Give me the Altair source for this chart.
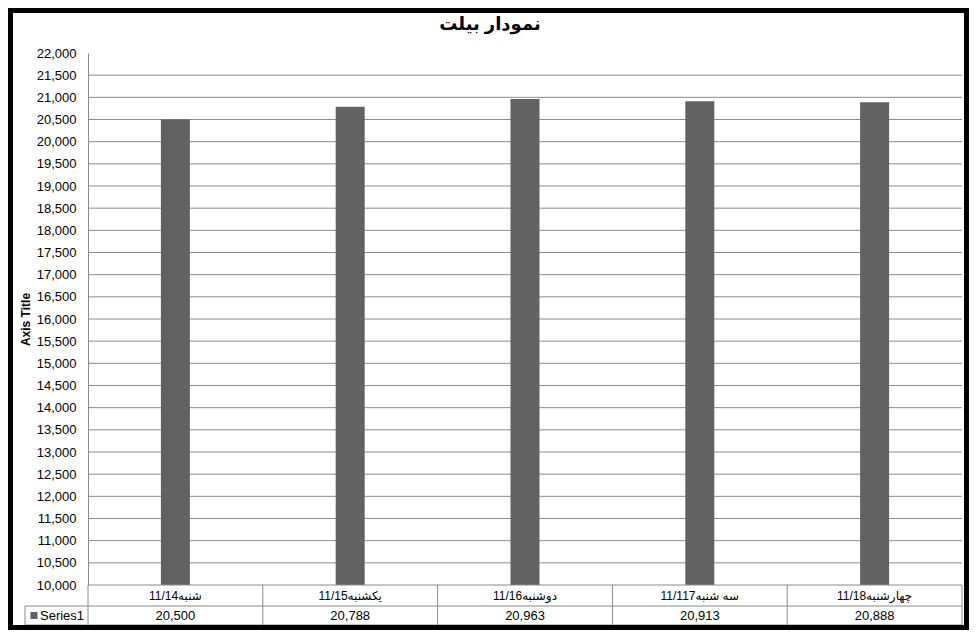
import altair as alt
import pandas as pd

# ---- data ----
categories = ["شنبه11/14", "یکشنبه11/15", "دوشنبه11/16", "سه شنبه11/117", "چهارشنبه11/18"]
values = [20500, 20788, 20963, 20913, 20888]
value_labels = ["20,500", "20,788", "20,963", "20,913", "20,888"]
y_ticks = list(range(10000, 22001, 500))
series_name = "Series1"
chart_title = "نمودار بیلت"
axis_title = "Axis Title"

df = pd.DataFrame({"cat": categories, "value": values, "label": value_labels})
grid_df = pd.DataFrame({"g": y_ticks[1:-1]})
one = pd.DataFrame({"k": [0]})

W, H = 874, 532
GRID = "#8a8a8a"
BAR = "#626262"
FONT = "Liberation Sans, Arial, DejaVu Sans"

xscale = alt.Scale(domain=categories, paddingInner=0, paddingOuter=0)
yscale = alt.Scale(domain=[10000, 22000], zero=False, nice=False)
yaxis = alt.Axis(
    values=y_ticks,
    format=",.0f",
    title=axis_title,
    titleFont=FONT,
    titleFontSize=12,
    titleFontWeight="bold",
    titleColor="#000000",
    titlePadding=4,
    labelFont=FONT,
    labelFontSize=13,
    labelColor="#000000",
    labelPadding=12,
    ticks=False,
    grid=False,
    domainColor=GRID,
)

base = alt.Chart(df)

gridlines = alt.Chart(grid_df).mark_rule(color=GRID, strokeWidth=1).encode(
    y=alt.Y("g:Q", scale=yscale, axis=yaxis, title=axis_title),
    x=alt.value(0),
    x2=alt.value(W),
)

bars = base.mark_bar(size=29, color=BAR).encode(
    x=alt.X("cat:N", scale=xscale, axis=None, sort=categories),
    y=alt.Y("value:Q", scale=yscale, axis=yaxis, title=axis_title),
    y2=alt.datum(10000),
)

# data table below the plot: category row and value row
R1, R2 = H + 21, H + 40
cat_text = base.mark_text(font=FONT, fontSize=12, color="#000000", baseline="middle").encode(
    x=alt.X("cat:N", scale=xscale, axis=None, sort=categories, bandPosition=0.5),
    y=alt.value(H + 10.5),
    text="cat:N",
)
val_text = base.mark_text(font=FONT, fontSize=13, color="#000000", baseline="middle").encode(
    x=alt.X("cat:N", scale=xscale, axis=None, sort=categories, bandPosition=0.5),
    y=alt.value(H + 30.5),
    text="label:N",
)
vlines = base.mark_rule(color=GRID, strokeWidth=1).encode(
    x=alt.X("cat:N", scale=xscale, axis=None, sort=categories, bandPosition=0),
    y=alt.value(H),
    y2=alt.value(R2),
)
deco = alt.Chart(one)
vline_right = deco.mark_rule(color=GRID).encode(x=alt.value(W), y=alt.value(H), y2=alt.value(R2))
vline_left = deco.mark_rule(color=GRID).encode(x=alt.value(-63), y=alt.value(R1), y2=alt.value(R2))
hline0 = deco.mark_rule(color=GRID).encode(x=alt.value(0), x2=alt.value(W), y=alt.value(H))
hline1 = deco.mark_rule(color=GRID).encode(x=alt.value(-63), x2=alt.value(W), y=alt.value(R1))
hline2 = deco.mark_rule(color=GRID).encode(x=alt.value(-63), x2=alt.value(W), y=alt.value(R2))
key = deco.mark_square(color=BAR, size=49, opacity=1).encode(x=alt.value(-54), y=alt.value(H + 30.5))
key_text = deco.mark_text(font=FONT, fontSize=13, align="left", baseline="middle", color="#000000").encode(
    x=alt.value(-48), y=alt.value(H + 30.5), text=alt.value(series_name)
)
title_text = deco.mark_text(font=FONT, fontSize=18, fontWeight="bold", align="center",
                            baseline="middle", color="#000000").encode(
    x=alt.value(402), y=alt.value(-28), text=alt.value(chart_title)
)
frame = deco.mark_rect(filled=False, stroke="#000000", strokeWidth=5).encode(
    x=alt.value(-77.5), x2=alt.value(878.5), y=alt.value(-42.5), y2=alt.value(574.5)
)

chart = alt.layer(
    gridlines, bars, vlines, vline_right, vline_left, hline0, hline1, hline2,
    cat_text, val_text, key, key_text, title_text, frame,
).properties(
    width=W,
    height=H,
    background="#ffffff",
    autosize=alt.AutoSizeParams(type="none"),
    padding={"left": 80, "top": 45, "right": 7, "bottom": 45},
).configure_view(strokeWidth=0)

chart.save("out.html", embed_options={"renderer": "svg", "actions": False})
